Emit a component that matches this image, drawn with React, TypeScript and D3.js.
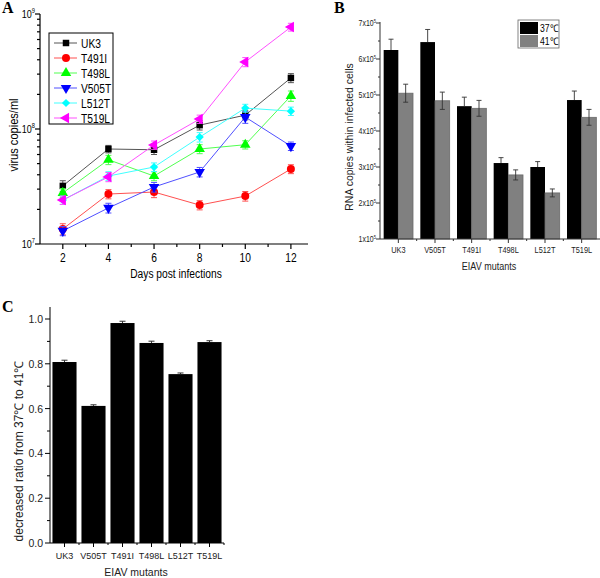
import React from 'react';
import * as d3 from 'd3';

// ---------- Panel A data ----------
const days = [2, 4, 6, 8, 10, 12];
const seriesNames = ['UK3', 'T491I', 'T498L', 'V505T', 'L512T', 'T519L'];
const uk3 = [3.2e7, 6.7e7, 6.6e7, 1.08e8, 1.32e8, 2.78e8];
const uk3Err = [0.35e7, 0.5e7, 0.6e7, 0.1e8, 0.12e8, 0.25e8];
const t491i = [1.35e7, 2.72e7, 2.83e7, 2.18e7, 2.61e7, 4.49e7];
const t491iErr = [0.15e7, 0.25e7, 0.3e7, 0.2e7, 0.25e7, 0.4e7];
const t498l = [2.78e7, 5.4e7, 3.9e7, 6.7e7, 7.3e7, 1.94e8];
const t498lErr = [0.25e7, 0.5e7, 0.35e7, 0.6e7, 0.6e7, 0.2e8];
const v505t = [1.3e7, 2.06e7, 3.13e7, 4.23e7, 1.27e8, 7.1e7];
const v505tErr = [0.12e7, 0.2e7, 0.3e7, 0.4e7, 0.15e8, 0.6e7];
const l512t = [2.41e7, 3.9e7, 4.67e7, 8.5e7, 1.52e8, 1.43e8];
const l512tErr = [0.2e7, 0.35e7, 0.4e7, 0.8e7, 0.12e8, 0.12e8];
const t519l = [2.41e7, 3.83e7, 7.26e7, 1.22e8, 3.83e8, 7.7e8];
const t519lErr = [0.2e7, 0.35e7, 0.6e7, 0.1e8, 0.35e8, 0.6e8];
const seriesColors = ['#000000', '#ff0000', '#00ff00', '#0000ff', '#00ffff', '#ff00ff'];
const lineColors = ['#555555', '#ff5050', '#50ff50', '#5050ff', '#40ffff', '#ff50ff'];
const yTicksA = [1e7, 1e8, 1e9];
const yTickExpA = ['7', '8', '9'];

// ---------- Panel B data ----------
const mutantsB = ['UK3', 'V505T', 'T491I', 'T498L', 'L512T', 'T519L'];
const temp37 = [6.25e5, 6.47e5, 4.69e5, 3.11e5, 3.0e5, 4.86e5];
const temp37Err = [0.3e5, 0.35e5, 0.25e5, 0.15e5, 0.15e5, 0.25e5];
const temp41 = [5.05e5, 4.84e5, 4.63e5, 2.78e5, 2.28e5, 4.38e5];
const temp41Err = [0.25e5, 0.24e5, 0.22e5, 0.14e5, 0.11e5, 0.22e5];
const yTicksB = [1e5, 2e5, 3e5, 4e5, 5e5, 6e5, 7e5];
const yTickMantB = ['1', '2', '3', '4', '5', '6', '7'];

// ---------- Panel C data ----------
const mutantsC = ['UK3', 'V505T', 'T491I', 'T498L', 'L512T', 'T519L'];
const ratio = [0.808, 0.612, 0.982, 0.893, 0.754, 0.897];
const ratioErr = [0.008, 0.005, 0.008, 0.008, 0.005, 0.006];
const yTicksC = [0, 0.2, 0.4, 0.6, 0.8, 1.0];

const SANS = '"Liberation Sans", Arial, sans-serif';
const SERIF = '"Liberation Serif", "Times New Roman", serif';

// narrow text (Arial-Narrow look): horizontally condensed Liberation Sans
function NText(props: { x: number; y: number; size: number; anchor?: string; rot?: number; fill?: string; sx?: number; children: React.ReactNode }) {
  const { x, y, size, anchor = 'start', rot = 0, fill = '#000', sx = 0.82, children } = props;
  return (
    <text transform={`translate(${x},${y}) rotate(${rot}) scale(${sx},1)`} textAnchor={anchor}
      fontFamily={SANS} fontSize={size} fill={fill}>{children}</text>
  );
}

function markerPath(i: number): { d: string; rot: number } {
  const s = d3.symbol();
  switch (i) {
    case 0: return { d: s.type(d3.symbolSquare).size(42)() as string, rot: 0 };
    case 1: return { d: s.type(d3.symbolCircle).size(50)() as string, rot: 0 };
    case 2: return { d: s.type(d3.symbolTriangle).size(48)() as string, rot: 0 };
    case 3: return { d: s.type(d3.symbolTriangle).size(48)() as string, rot: 180 };
    case 4: return { d: s.type(d3.symbolSquare).size(34)() as string, rot: 45 };
    default: return { d: s.type(d3.symbolTriangle).size(48)() as string, rot: -90 };
  }
}

export default function App() {
  const series = [uk3, t491i, t498l, v505t, l512t, t519l];
  const errs = [uk3Err, t491iErr, t498lErr, v505tErr, l512tErr, t519lErr];

  // Panel A scales
  const xA = d3.scaleLinear().domain([1, 12.75]).range([40, 308]);
  const yA = d3.scaleLog().domain([1e7, 1e9]).range([244, 14]);
  const lineA = d3.line<number>().x((_, i) => xA(days[i])).y((d) => yA(d));
  const minorA: number[] = [];
  [1e7, 1e8].forEach((dec) => { for (let k = 2; k <= 9; k++) minorA.push(k * dec); });
  const minorXA = [3, 5, 7, 9, 11];

  // Panel B scales
  const xB = d3.scaleBand<string>().domain(mutantsB).range([380, 600]).paddingInner(0.2).paddingOuter(0.1);
  const yB = d3.scaleLinear().domain([1e5, 7e5]).range([239, 23]);
  const barW = xB.bandwidth() / 2;
  const minorB = d3.range(1.5e5, 7e5, 1e5);

  // Panel C scales
  const xC = d3.scaleBand<string>().domain(mutantsC).range([50, 224]).paddingInner(0.17).paddingOuter(0.085);
  const yC = d3.scaleLinear().domain([0, 1.05]).range([543, 543 - 1.05 * 224]);
  const minorC = [0.1, 0.3, 0.5, 0.7, 0.9];

  return (
    <svg width={600} height={578} style={{ position: 'absolute', left: 0, top: 0, background: '#fff' }}>
      <rect x={0} y={0} width={600} height={578} fill="#fff" />
      {/* ================= Panel A ================= */}
      <text x={2} y={13} fontFamily={SERIF} fontWeight="bold" fontSize={16}>A</text>
      <g stroke="#000" strokeWidth={1.2} fill="none">
        <line x1={40} y1={yA(1e9)} x2={40} y2={244} />
        <line x1={40} y1={244} x2={308} y2={244} />
        {yTicksA.map((t) => <line key={'ya' + t} x1={35} x2={40} y1={yA(t)} y2={yA(t)} />)}
        {minorA.map((t) => <line key={'yam' + t} x1={37} x2={40} y1={yA(t)} y2={yA(t)} />)}
        {days.map((t) => <line key={'xa' + t} x1={xA(t)} x2={xA(t)} y1={244} y2={249} />)}
        {minorXA.map((t) => <line key={'xam' + t} x1={xA(t)} x2={xA(t)} y1={244} y2={247} />)}
      </g>
      {yTicksA.map((t, i) => (
        <NText key={'yal' + t} x={35} y={yA(t) + 4} anchor="end" size={11}>
          10<tspan dy={-5} fontSize={7}>{yTickExpA[i]}</tspan>
        </NText>
      ))}
      {days.map((t) => (
        <NText key={'xal' + t} x={xA(t)} y={262} anchor="middle" size={12.5}>{t}</NText>
      ))}
      <NText x={176} y={278} anchor="middle" size={12.5}>Days post infections</NText>
      <NText x={18} y={135} rot={-90} anchor="middle" size={13.5}>virus copies/ml</NText>

      {series.map((vals, si) => (
        <g key={'s' + si}>
          <path d={lineA(vals) as string} fill="none" stroke={lineColors[si]} strokeWidth={1} />
          {vals.map((v, i) => {
            const e = errs[si][i];
            const x = xA(days[i]);
            return (
              <g key={'e' + i} stroke={lineColors[si]} strokeWidth={1}>
                <line x1={x} x2={x} y1={yA(v + e)} y2={yA(v - e)} />
                <line x1={x - 3} x2={x + 3} y1={yA(v + e)} y2={yA(v + e)} />
                <line x1={x - 3} x2={x + 3} y1={yA(v - e)} y2={yA(v - e)} />
              </g>
            );
          })}
          {vals.map((v, i) => {
            const m = markerPath(si);
            return (
              <path key={'m' + i} d={m.d} fill={seriesColors[si]}
                transform={`translate(${xA(days[i])},${yA(v)}) rotate(${m.rot})`} />
            );
          })}
        </g>
      ))}

      {/* Legend A */}
      <rect x={49} y={33} width={64} height={91} fill="#fff" stroke="#000" strokeWidth={1} />
      {seriesNames.map((n, i) => {
        const y = 43 + i * 15;
        const m = markerPath(i);
        return (
          <g key={'lg' + n}>
            <line x1={54} x2={77} y1={y} y2={y} stroke={lineColors[i]} strokeWidth={1} />
            <path d={m.d} fill={seriesColors[i]} transform={`translate(66,${y}) rotate(${m.rot})`} />
            <NText x={81} y={y + 4.5} size={12.5}>{n}</NText>
          </g>
        );
      })}

      {/* ================= Panel B ================= */}
      <text x={334} y={13} fontFamily={SERIF} fontWeight="bold" fontSize={16}>B</text>
      {mutantsB.map((m, i) => {
        const x0 = xB(m) as number;
        return (
          <g key={'b' + m}>
            <rect x={x0} y={yB(temp37[i])} width={barW} height={239 - yB(temp37[i])} fill="#000" />
            <rect x={x0 + barW} y={yB(temp41[i])} width={barW} height={239 - yB(temp41[i])} fill="#808080" stroke="#6a6a6a" strokeWidth={0.8} />
            <g stroke="#333" strokeWidth={0.9}>
              <line x1={x0 + barW / 2} x2={x0 + barW / 2} y1={yB(temp37[i] + temp37Err[i])} y2={yB(temp37[i])} />
              <line x1={x0 + barW / 2 - 2.5} x2={x0 + barW / 2 + 2.5} y1={yB(temp37[i] + temp37Err[i])} y2={yB(temp37[i] + temp37Err[i])} />
              <line x1={x0 + barW * 1.5} x2={x0 + barW * 1.5} y1={yB(temp41[i] + temp41Err[i])} y2={yB(temp41[i] - temp41Err[i])} />
              <line x1={x0 + barW * 1.5 - 2.5} x2={x0 + barW * 1.5 + 2.5} y1={yB(temp41[i] + temp41Err[i])} y2={yB(temp41[i] + temp41Err[i])} />
              <line x1={x0 + barW * 1.5 - 2.5} x2={x0 + barW * 1.5 + 2.5} y1={yB(temp41[i] - temp41Err[i])} y2={yB(temp41[i] - temp41Err[i])} />
            </g>
          </g>
        );
      })}
      <g stroke="#333" strokeWidth={1} fill="none">
        <line x1={380} y1={22} x2={380} y2={239} />
        <line x1={380} y1={239} x2={600} y2={239} />
        {yTicksB.map((t) => <line key={'ybt' + t} x1={376} x2={380} y1={yB(t)} y2={yB(t)} />)}
        {minorB.map((t) => <line key={'ybm' + t} x1={378} x2={380} y1={yB(t)} y2={yB(t)} />)}
        {mutantsB.map((m) => {
          const c = (xB(m) as number) + xB.bandwidth() / 2;
          return <line key={'xbt' + m} x1={c} x2={c} y1={239} y2={243} />;
        })}
        {mutantsB.slice(1).map((m) => {
          const b = (xB(m) as number) - (xB.step() * xB.paddingInner()) / 2;
          return <line key={'xbm' + m} x1={b} x2={b} y1={239} y2={241} />;
        })}
      </g>
      {yTicksB.map((t, i) => (
        <NText key={'ybl' + t} x={376} y={yB(t) + 3} anchor="end" size={8.5} fill="#222">
          {yTickMantB[i]}x10<tspan dy={-3.5} fontSize={5}>5</tspan>
        </NText>
      ))}
      {mutantsB.map((m) => (
        <NText key={'xbl' + m} x={(xB(m) as number) + xB.bandwidth() / 2} y={253} anchor="middle" size={9} fill="#222">{m}</NText>
      ))}
      <NText x={489} y={270} anchor="middle" size={11} fill="#222">EIAV mutants</NText>
      <NText x={353} y={137} rot={-90} anchor="middle" size={11} sx={0.95} fill="#222">RNA copies within infected cells</NText>
      {/* Legend B */}
      <rect x={518} y={20} width={41} height={28} fill="#fff" stroke="#666" strokeWidth={0.8} />
      <rect x={520} y={22} width={18} height={12} fill="#000" />
      <rect x={520} y={35} width={18} height={12} fill="#808080" />
      <NText x={540} y={32} size={10.5}>37℃</NText>
      <NText x={540} y={45} size={10.5}>41℃</NText>

      {/* ================= Panel C ================= */}
      <text x={2} y={312} fontFamily={SERIF} fontWeight="bold" fontSize={16}>C</text>
      {mutantsC.map((m, i) => {
        const x0 = xC(m) as number;
        const c = x0 + xC.bandwidth() / 2;
        return (
          <g key={'c' + m}>
            <rect x={x0} y={yC(ratio[i])} width={xC.bandwidth()} height={543 - yC(ratio[i])} fill="#000" />
            <g stroke="#333" strokeWidth={1}>
              <line x1={c} x2={c} y1={yC(ratio[i] + ratioErr[i])} y2={yC(ratio[i])} />
              <line x1={c - 3} x2={c + 3} y1={yC(ratio[i] + ratioErr[i])} y2={yC(ratio[i] + ratioErr[i])} />
            </g>
          </g>
        );
      })}
      <g stroke="#000" strokeWidth={1} fill="none">
        <line x1={50} y1={307} x2={50} y2={543} />
        <line x1={50} y1={543} x2={224} y2={543} />
        {yTicksC.map((t) => <line key={'yct' + t} x1={45} x2={50} y1={yC(t)} y2={yC(t)} />)}
        {minorC.map((t) => <line key={'ycm' + t} x1={47} x2={50} y1={yC(t)} y2={yC(t)} />)}
        {mutantsC.map((m) => {
          const c = (xC(m) as number) + xC.bandwidth() / 2;
          return <line key={'xct' + m} x1={c} x2={c} y1={543} y2={547} />;
        })}
        {mutantsC.map((m) => {
          const b = (xC(m) as number) + xC.bandwidth() + (xC.step() * xC.paddingInner()) / 2;
          return <line key={'xcm' + m} x1={b} x2={b} y1={543} y2={545} />;
        })}
      </g>
      {yTicksC.map((t) => (
        <text key={'ycl' + t} x={43} y={yC(t) + 4} textAnchor="end" fontFamily={SANS} fontSize={10.5} fill="#222">{t.toFixed(1)}</text>
      ))}
      {mutantsC.map((m) => (
        <text key={'xcl' + m} x={(xC(m) as number) + xC.bandwidth() / 2} y={559} textAnchor="middle" fontFamily={SANS} fontSize={9} fill="#222">{m}</text>
      ))}
      <text x={136} y={576} textAnchor="middle" fontFamily={SANS} fontSize={10.5} fill="#222">EIAV mutants</text>
      <text transform="translate(23,451) rotate(-90)" textAnchor="middle" fontFamily={SANS} fontSize={12} fill="#222">decreased ratio from 37℃ to 41℃</text>
    </svg>
  );
}
